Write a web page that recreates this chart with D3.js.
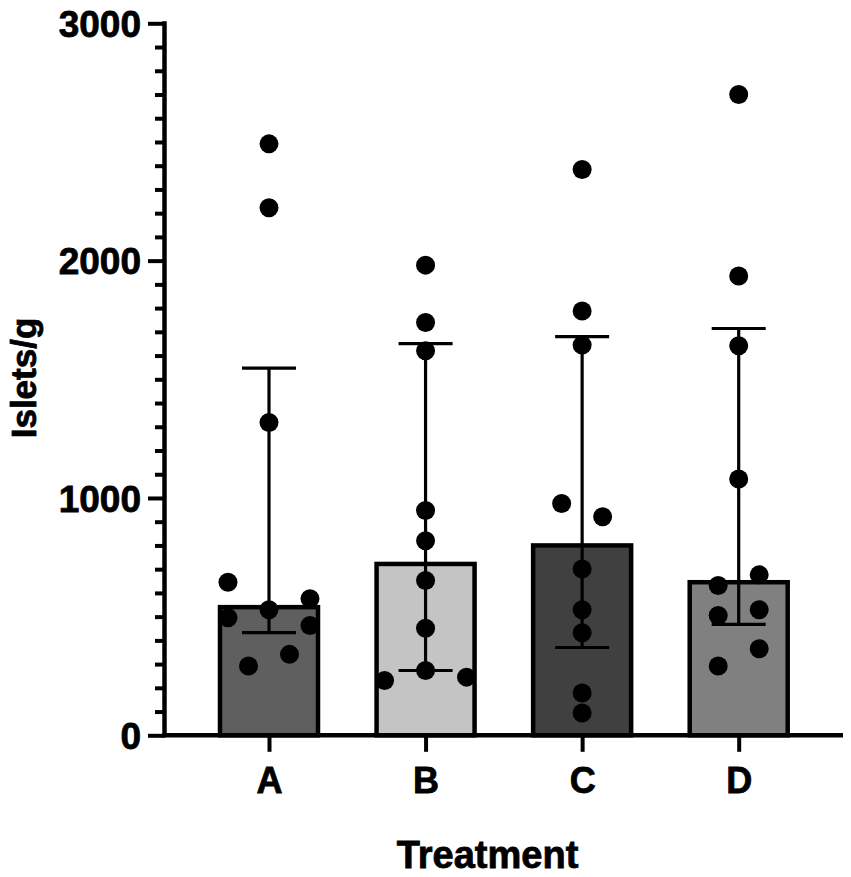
<!DOCTYPE html>
<html>
<head>
<meta charset="utf-8">
<script src="https://cdn.jsdelivr.net/npm/d3@7"></script>
<style>
  html, body { margin: 0; padding: 0; background: #fff; }
  svg { display: block; }
  text { font-family: "Liberation Sans", Arial, Helvetica, sans-serif; font-weight: bold; fill: #000; stroke: #000; stroke-width: 0.8px; }
</style>
</head>
<body>
<svg id="chart" width="851" height="877"></svg>
<script>
// ---- data ----
const categories = ["A", "B", "C", "D"];
const barValues  = [540, 722, 800, 645];          // bar heights (Islets/g)
const errLow     = [433, 273, 370, 467];          // lower whisker
const errHigh    = [1547, 1650, 1680, 1714];      // upper whisker
const pointsA = [2492, 2223, 1318, 645, 575, 529, 495, 463, 341, 292];
const pointsB = [1981, 1739, 1620, 947, 820, 652, 451, 273, 245, 231];
const pointsC = [2384, 1788, 1644, 977, 921, 701, 529, 432, 178, 94];
const pointsD = [2700, 1935, 1641, 1080, 676, 631, 529, 505, 365, 292];
// scatter column index of each point (swarm slot, -2..2)
const swarmA = [0, 0, 0, -2, 2, 0, -2, 2, 1, -1];
const swarmB = [0, 0, 0, 0, 0, 0, 0, 0, 2, -2];
const swarmC = [0, 0, 0, -1, 1, 0, 0, 0, 0, 0];
const swarmD = [0, 0, 0, 0, 1, -1, 1, -1, 1, -1];
const yMajorTicks = [0, 1000, 2000, 3000];
const yTitle = "Islets/g";
const xTitle = "Treatment";
const barColors = ["#5f5f5f", "#c4c4c4", "#404040", "#808080"];

// ---- layout ----
const svg = d3.select("#chart");
const y = d3.scaleLinear().domain([0, 3000]).range([735.3, 23.3]);
const x = d3.scalePoint().domain(categories).range([269, 738.7]);
const axisX = 164.5;
const barW = 98;
const capW = 54;
const slotW = 20.5;
const dotR = 9.5;

const groups = categories.map((c, i) => ({
  cat: c,
  bar: barValues[i],
  lo: errLow[i],
  hi: errHigh[i],
  color: barColors[i],
  pts: [pointsA, pointsB, pointsC, pointsD][i],
  slots: [swarmA, swarmB, swarmC, swarmD][i]
}));

// bars
svg.append("g").selectAll("rect").data(groups).join("rect")
  .attr("x", d => x(d.cat) - barW / 2)
  .attr("y", d => y(d.bar))
  .attr("width", barW)
  .attr("height", d => y(0) - y(d.bar))
  .attr("fill", d => d.color)
  .attr("stroke", "#000")
  .attr("stroke-width", 4.5);

// error bars
const eb = svg.append("g").attr("stroke", "#000").attr("stroke-width", 3.2);
eb.selectAll("line.v").data(groups).join("line").attr("class", "v")
  .attr("x1", d => x(d.cat)).attr("x2", d => x(d.cat))
  .attr("y1", d => y(d.lo)).attr("y2", d => y(d.hi));
eb.selectAll("line.hi").data(groups).join("line").attr("class", "hi")
  .attr("x1", d => x(d.cat) - capW / 2).attr("x2", d => x(d.cat) + capW / 2)
  .attr("y1", d => y(d.hi)).attr("y2", d => y(d.hi));
eb.selectAll("line.lo").data(groups).join("line").attr("class", "lo")
  .attr("x1", d => x(d.cat) - capW / 2).attr("x2", d => x(d.cat) + capW / 2)
  .attr("y1", d => y(d.lo)).attr("y2", d => y(d.lo));

// points
const pts = [];
groups.forEach(g => g.pts.forEach((v, j) => pts.push({ cat: g.cat, v, s: g.slots[j] })));
svg.append("g").selectAll("circle").data(pts).join("circle")
  .attr("cx", d => x(d.cat) + d.s * slotW)
  .attr("cy", d => y(d.v))
  .attr("r", dotR)
  .attr("fill", "#000");

// y axis: minor ticks
const minorTicks = d3.range(0, 3001, 100).filter(v => !yMajorTicks.includes(v));
const yMinor = svg.append("g").attr("transform", `translate(${axisX},0)`)
  .call(d3.axisLeft(y).tickValues(minorTicks).tickSize(9.5).tickSizeOuter(0).tickFormat(""));
yMinor.select(".domain").remove();
yMinor.selectAll(".tick line").attr("stroke", "#000").attr("stroke-width", 4);

// y axis: major ticks + labels
const yAxis = svg.append("g").attr("transform", `translate(${axisX},0)`)
  .call(d3.axisLeft(y).tickValues(yMajorTicks).tickSize(16.5).tickSizeOuter(0).tickPadding(7).tickFormat(d3.format("d")));
yAxis.select(".domain").attr("stroke", "#000").attr("stroke-width", 4.5)
  .attr("d", `M0,${y(0) + 2}V${y(3000) - 2}`);
yAxis.selectAll(".tick line").attr("stroke", "#000").attr("stroke-width", 4);
yAxis.selectAll(".tick text")
  .attr("font-size", 37)
  .attr("font-family", "Liberation Sans, Arial, sans-serif")
  .attr("font-weight", "bold")
  .attr("fill", "#000")
  .attr("dy", "0.36em");

// x axis
const xAxis = svg.append("g").attr("transform", `translate(0,${y(0)})`)
  .call(d3.axisBottom(x).tickSize(16.5).tickSizeOuter(0).tickPadding(16));
xAxis.select(".domain").attr("stroke", "#000").attr("stroke-width", 4.5)
  .attr("d", `M${axisX - 2},0H843`);
xAxis.selectAll(".tick line").attr("stroke", "#000").attr("stroke-width", 4);
xAxis.selectAll(".tick text")
  .attr("font-size", 36)
  .attr("font-family", "Liberation Sans, Arial, sans-serif")
  .attr("font-weight", "bold")
  .attr("fill", "#000");

// titles
svg.append("text")
  .attr("x", 487.5).attr("y", 868)
  .attr("text-anchor", "middle")
  .attr("font-size", 38)
  .text(xTitle);

svg.append("text")
  .attr("transform", "translate(35.5,378) rotate(-90)")
  .attr("text-anchor", "middle")
  .attr("font-size", 35)
  .text(yTitle);
</script>
</body>
</html>
